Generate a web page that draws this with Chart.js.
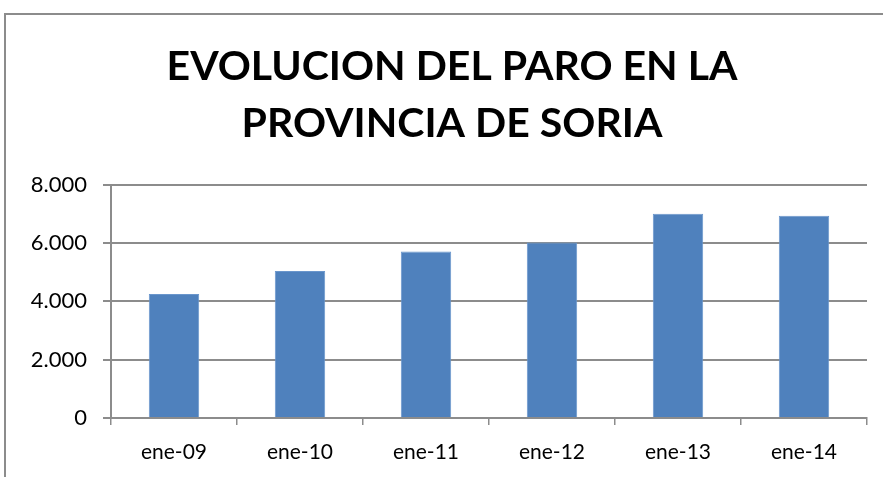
<!DOCTYPE html>
<html>
<head>
<meta charset="utf-8">
<script src="https://cdn.jsdelivr.net/npm/chart.js@4.4.1/dist/chart.umd.min.js"></script>
<style>
  html, body { margin: 0; padding: 0; background: #fff; overflow: hidden; }
  #wrap { position: absolute; left: 0; top: 0; width: 883px; height: 477px; }
  #frame { position: absolute; left: 4px; top: 13px; width: 900px; height: 500px;
           border-left: 2px solid #8c8c8c; border-top: 2px solid #8c8c8c; box-sizing: border-box; }
  canvas { position: absolute; left: 0; top: 0; }
</style>
</head>
<body>
<div id="wrap">
  <div id="frame"></div>
  <canvas id="c" width="883" height="477"></canvas>
</div>
<script>
const categories = ["ene-09", "ene-10", "ene-11", "ene-12", "ene-13", "ene-14"];
const paro = [4255, 5045, 5710, 6020, 7005, 6935];
const yTicks = [0, 2000, 4000, 6000, 8000];
const titleLines = ["EVOLUCION DEL PARO EN LA", "PROVINCIA DE SORIA"];

const FONT = "Lato, 'Open Sans', sans-serif";
const fmt = v => String(v).replace(/\B(?=(\d{3})+(?!\d))/g, ".");

const shiftTitle = {
  id: "shiftTitle",
  afterLayout(chart) {
    if (chart.titleBlock) { chart.titleBlock.left += 37; }
  }
};

new Chart(document.getElementById("c"), {
  type: "bar",
  data: {
    labels: categories,
    datasets: [{
      data: paro,
      backgroundColor: "#4f81bd",
      borderColor: "#6a96cc",
      borderWidth: 1,
      barPercentage: 0.4,
      categoryPercentage: 1.0
    }]
  },
  plugins: [shiftTitle],
  options: {
    responsive: false,
    animation: false,
    layout: { padding: { left: 0, right: 16, top: 0, bottom: 0 } },
    plugins: {
      legend: { display: false },
      tooltip: { enabled: false },
      title: {
        display: true,
        text: titleLines,
        color: "#000",
        font: { family: FONT, size: 41, weight: "bold", lineHeight: 1.4 },
        padding: { top: 38, bottom: 32 }
      }
    },
    scales: {
      x: {
        grid: { display: true, drawOnChartArea: false, drawTicks: true, tickLength: 7,
                color: "#8c8c8c", lineWidth: 1.5, offset: true },
        border: { color: "#8c8c8c", width: 2 },
        ticks: { color: "#000", font: { family: FONT, size: 21 }, padding: 15 },
        afterFit: s => { s.height = 59; }
      },
      y: {
        min: 0, max: 8000,
        afterBuildTicks: s => { s.ticks = yTicks.map(v => ({ value: v })); },
        grid: { color: "#8c8c8c", lineWidth: 2, drawTicks: true, tickLength: 8 },
        border: { color: "#8c8c8c", width: 2 },
        ticks: { color: "#000", font: { family: FONT, size: 22 }, padding: 16,
                 callback: v => fmt(v) },
        afterFit: s => { s.width = 111; }
      }
    }
  }
});
</script>
</body>
</html>
